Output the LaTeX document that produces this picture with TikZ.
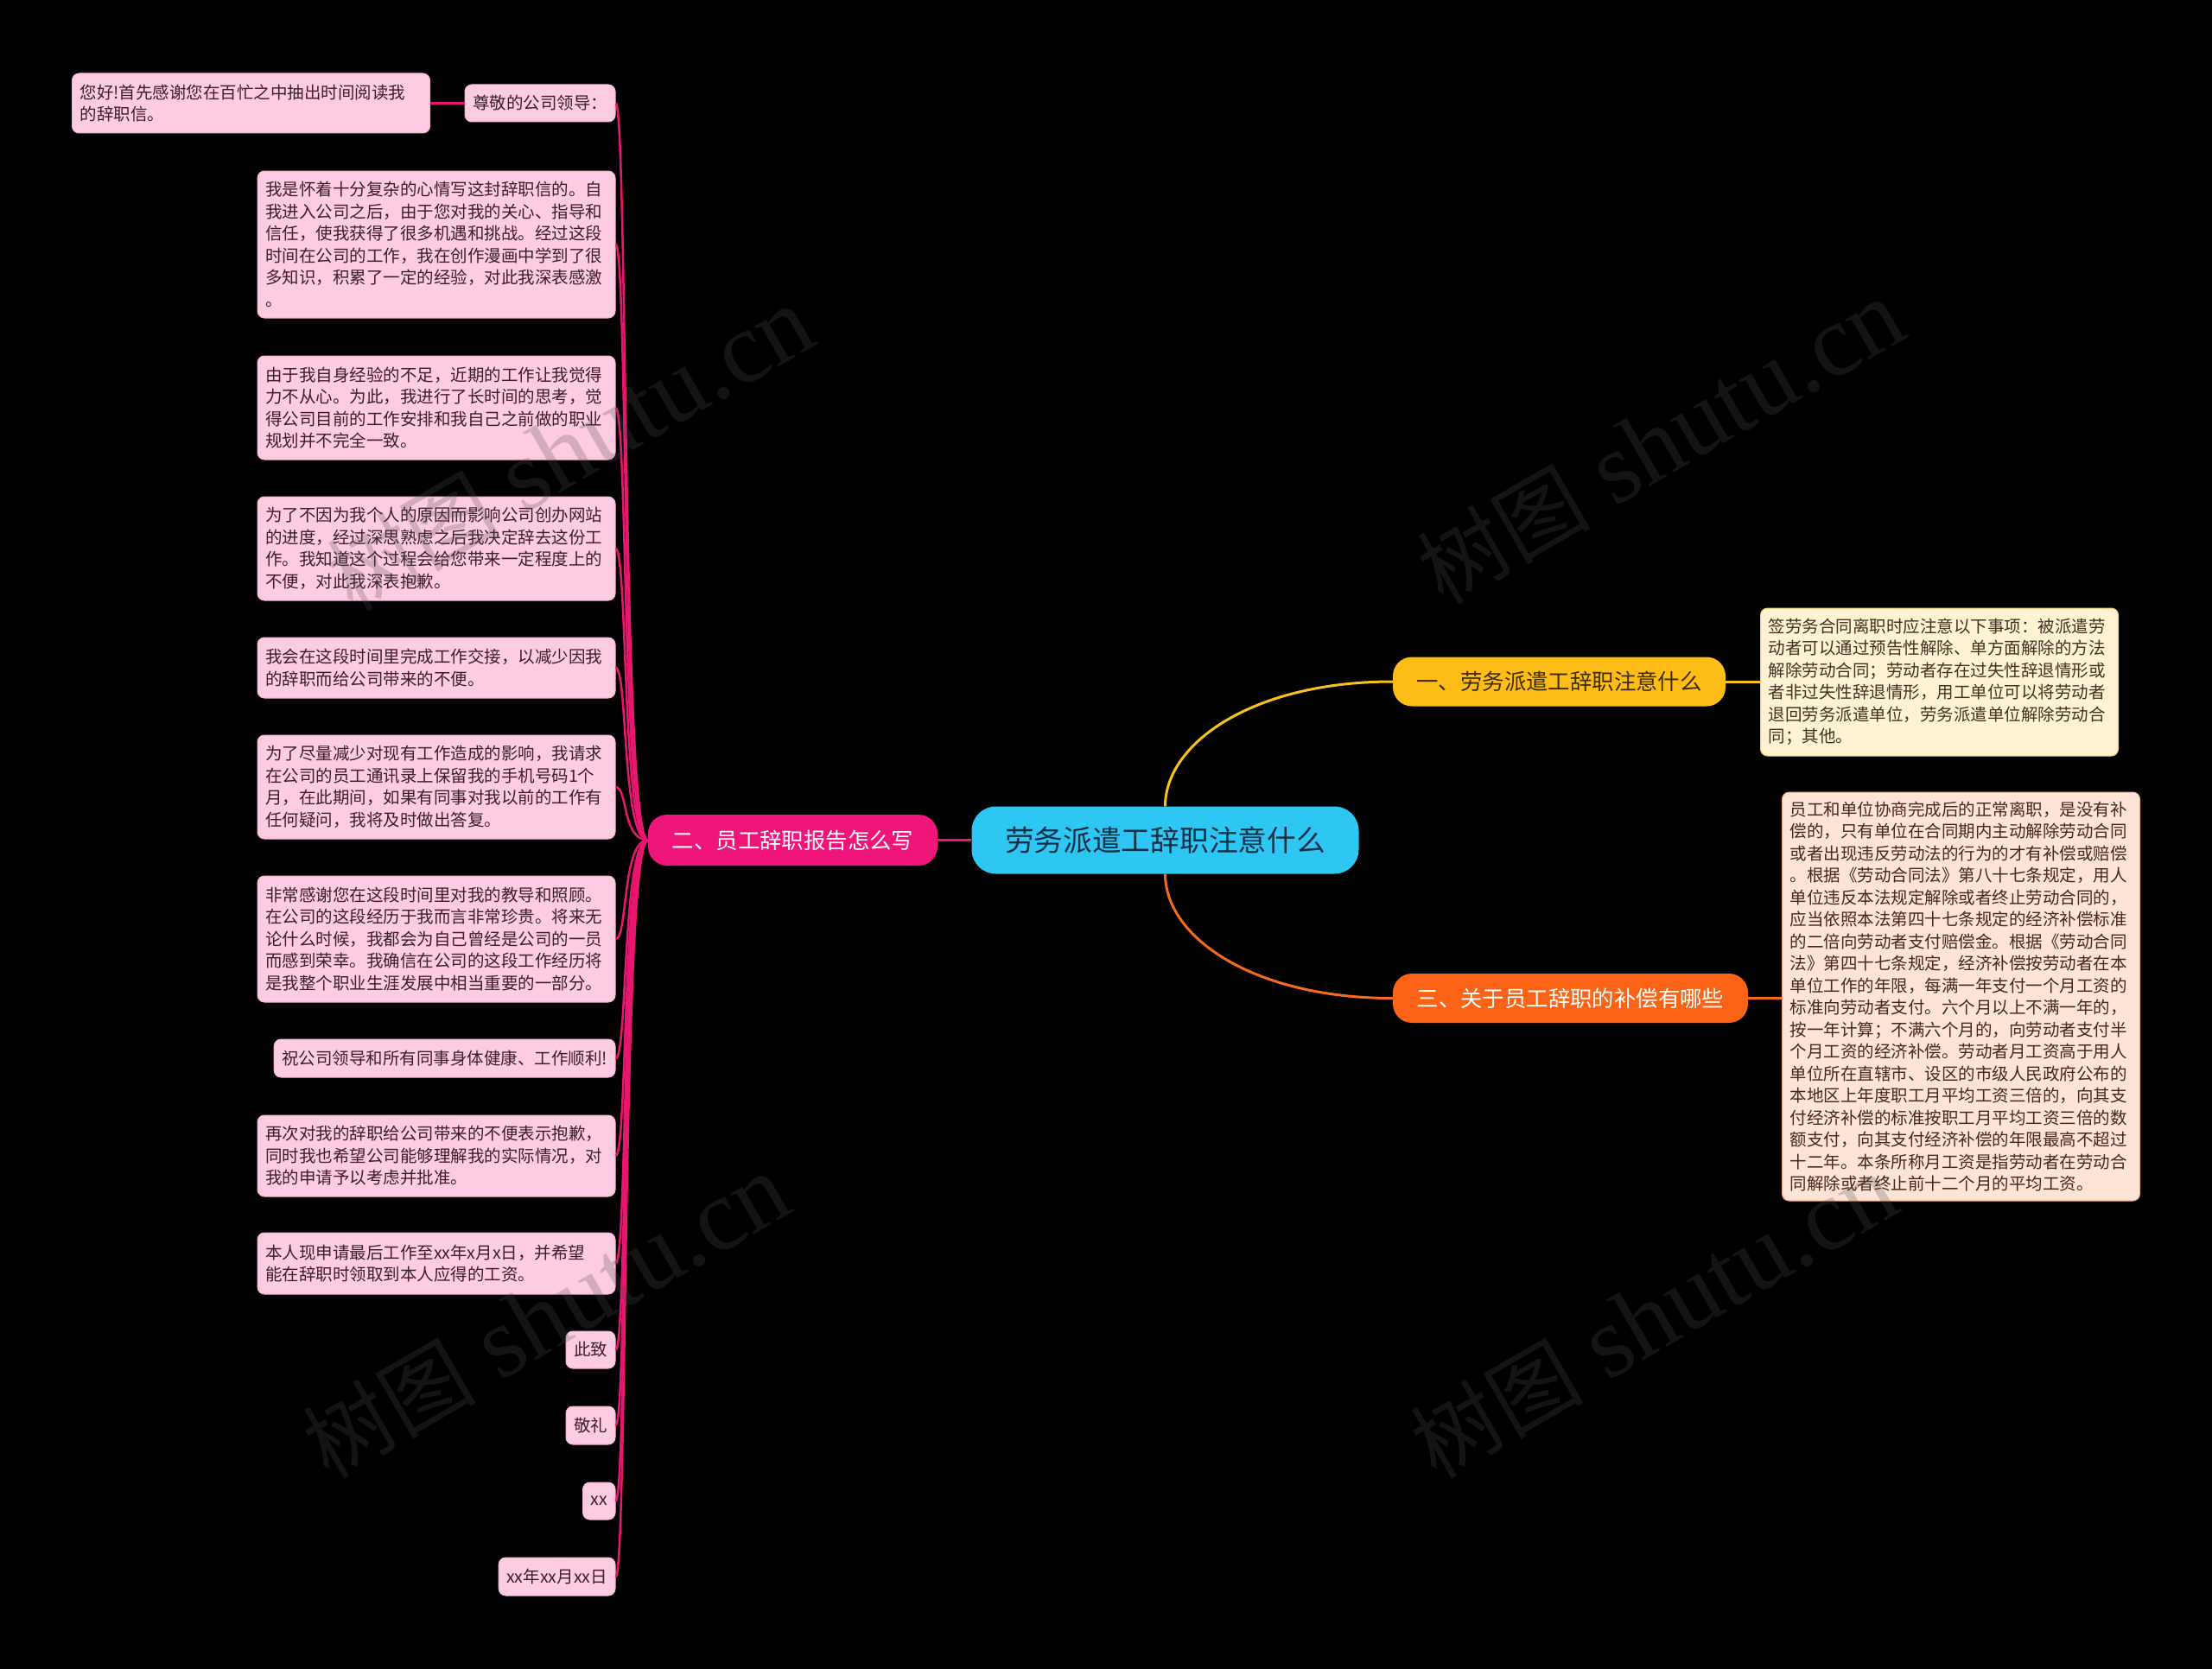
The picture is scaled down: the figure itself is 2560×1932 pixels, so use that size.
\documentclass[tikz,border=0pt]{standalone}
\usepackage{fontspec}
\setmainfont{Noto Sans CJK SC}
\newfontfamily\wmlatin{Liberation Serif}
\definecolor{bgc}{HTML}{000000}
\definecolor{cyanc}{HTML}{2EC6F2}
\definecolor{cyantext}{HTML}{123047}
\definecolor{goldc}{HTML}{FDBD16}
\definecolor{goldtext}{HTML}{3D2C05}
\definecolor{magc}{HTML}{F0157A}
\definecolor{orangec}{HTML}{FB6416}
\definecolor{pinkleaf}{HTML}{FECCE2}
\definecolor{pinkedge}{HTML}{F5B3D0}
\definecolor{pinktext}{HTML}{3A1E2C}
\definecolor{creamleaf}{HTML}{FFF3D4}
\definecolor{creamedge}{HTML}{F2CF6A}
\definecolor{creamtext}{HTML}{3D3320}
\definecolor{peachleaf}{HTML}{FDE4D6}
\definecolor{peachedge}{HTML}{F6A57A}
\definecolor{peachtext}{HTML}{45281A}
\definecolor{magline}{HTML}{E8166F}
\definecolor{goldline}{HTML}{F6C21C}
\definecolor{orangeline}{HTML}{F46A1E}
\definecolor{wmgray}{HTML}{505050}
\newcommand{\wmtext}{{\fontsize{100}{100}\selectfont 树图}\hspace{28pt}{\wmlatin\fontsize{118}{118}\selectfont shutu.cn}}
\tikzset{
  leafbox/.style={rectangle, rounded corners=8pt, line width=1pt, inner xsep=9pt, inner ysep=0pt,
    font=\fontsize{19.5}{25.5}\selectfont, align=left},
  pinkbox/.style={leafbox, fill=pinkleaf, draw=pinkedge, text=pinktext, anchor=east},
  para/.style={text width=396pt},
  creambox/.style={leafbox, para, fill=creamleaf, draw=creamedge, text=creamtext, anchor=west},
  peachbox/.style={leafbox, para, fill=peachleaf, draw=peachedge, text=peachtext, anchor=west},
  branchbox/.style={rectangle, rounded corners=22pt, inner sep=0pt, font=\fontsize{25.4}{28}\selectfont,
    minimum height=57pt},
  rootbox/.style={rectangle, rounded corners=28pt, inner sep=0pt, fill=cyanc, text=cyantext,
    font=\fontsize{33.7}{36}\selectfont, minimum width=448pt, minimum height=78pt},
  magconn/.style={draw=magline, line width=2.5pt},
  goldconn/.style={draw=goldline, line width=3pt},
  orangeconn/.style={draw=orangeline, line width=3pt},
  wmark/.style={rotate=30, text=wmgray, text opacity=0.25, inner sep=0pt}
}
\begin{document}
\begin{tikzpicture}[x=1pt,y=-1pt]
\useasboundingbox (0,0) rectangle (2560,1932);
\fill[bgc] (0,0) rectangle (2560,1932);

% root and branches
\node[rootbox] (c) at (1348.5,972.5) {劳务派遣工辞职注意什么};
\node[branchbox, fill=goldc, text=goldtext, minimum width=385pt] (b1) at (1804.5,789) {一、劳务派遣工辞职注意什么};
\node[branchbox, fill=magc, text=white, minimum width=335pt, minimum height=59pt] (b2) at (917.5,972.5) {二、员工辞职报告怎么写};
\node[branchbox, fill=orangec, text=white, minimum width=411pt] (b3) at (1817.5,1155.5) {三、关于员工辞职的补偿有哪些};

% right leaves
\node[creambox, minimum height=171pt] (r1) at (2037,789.5) {签劳务合同离职时应注意以下事项：被派遣劳\\动者可以通过预告性解除、单方面解除的方法\\解除劳动合同；劳动者存在过失性辞退情形或\\者非过失性辞退情形，用工单位可以将劳动者\\退回劳务派遣单位，劳务派遣单位解除劳动合\\同；其他。};
\node[peachbox, minimum height=473pt] (r3) at (2062,1153.5) {员工和单位协商完成后的正常离职，是没有补\\偿的，只有单位在合同期内主动解除劳动合同\\或者出现违反劳动法的行为的才有补偿或赔偿\\。根据《劳动合同法》第八十七条规定，用人\\单位违反本法规定解除或者终止劳动合同的，\\应当依照本法第四十七条规定的经济补偿标准\\的二倍向劳动者支付赔偿金。根据《劳动合同\\法》第四十七条规定，经济补偿按劳动者在本\\单位工作的年限，每满一年支付一个月工资的\\标准向劳动者支付。六个月以上不满一年的，\\按一年计算；不满六个月的，向劳动者支付半\\个月工资的经济补偿。劳动者月工资高于用人\\单位所在直辖市、设区的市级人民政府公布的\\本地区上年度职工月平均工资三倍的，向其支\\付经济补偿的标准按职工月平均工资三倍的数\\额支付，向其支付经济补偿的年限最高不超过\\十二年。本条所称月工资是指劳动者在劳动合\\同解除或者终止前十二个月的平均工资。};

% left leaves
\node[pinkbox, minimum height=43pt] (l0) at (712.5,119.5) {尊敬的公司领导：};
\node[pinkbox, para, minimum height=69pt] (l0a) at (498,119.5) {您好!首先感谢您在百忙之中抽出时间阅读我\\的辞职信。};
\node[pinkbox, para, minimum height=170pt] (l1) at (712.5,283) {我是怀着十分复杂的心情写这封辞职信的。自\\我进入公司之后，由于您对我的关心、指导和\\信任，使我获得了很多机遇和挑战。经过这段\\时间在公司的工作，我在创作漫画中学到了很\\多知识，积累了一定的经验，对此我深表感激\\。};
\node[pinkbox, para, minimum height=120pt] (l2) at (712.5,472) {由于我自身经验的不足，近期的工作让我觉得\\力不从心。为此，我进行了长时间的思考，觉\\得公司目前的工作安排和我自己之前做的职业\\规划并不完全一致。};
\node[pinkbox, para, minimum height=120pt] (l3) at (712.5,635) {为了不因为我个人的原因而影响公司创办网站\\的进度，经过深思熟虑之后我决定辞去这份工\\作。我知道这个过程会给您带来一定程度上的\\不便，对此我深表抱歉。};
\node[pinkbox, para, minimum height=70pt] (l4) at (712.5,773) {我会在这段时间里完成工作交接，以减少因我\\的辞职而给公司带来的不便。};
\node[pinkbox, para, minimum height=120pt] (l5) at (712.5,911) {为了尽量减少对现有工作造成的影响，我请求\\在公司的员工通讯录上保留我的手机号码1个\\月，在此期间，如果有同事对我以前的工作有\\任何疑问，我将及时做出答复。};
\node[pinkbox, para, minimum height=146pt] (l6) at (712.5,1087) {非常感谢您在这段时间里对我的教导和照顾。\\在公司的这段经历于我而言非常珍贵。将来无\\论什么时候，我都会为自己曾经是公司的一员\\而感到荣幸。我确信在公司的这段工作经历将\\是我整个职业生涯发展中相当重要的一部分。};
\node[pinkbox, minimum height=44pt] (l7) at (712.5,1225) {祝公司领导和所有同事身体健康、工作顺利!};
\node[pinkbox, para, minimum height=94pt] (l8) at (712.5,1338) {再次对我的辞职给公司带来的不便表示抱歉，\\同时我也希望公司能够理解我的实际情况，对\\我的申请予以考虑并批准。};
\node[pinkbox, para, minimum height=71pt] (l9) at (712.5,1462.5) {本人现申请最后工作至xx年x月x日，并希望\\能在辞职时领取到本人应得的工资。};
\node[pinkbox, minimum height=43pt] (l10) at (712.5,1562.5) {此致};
\node[pinkbox, minimum height=44pt] (l11) at (712.5,1650) {敬礼};
\node[pinkbox, minimum height=43pt] (l12) at (712.5,1737.5) {xx};
\node[pinkbox, minimum height=44pt] (l13) at (712.5,1825) {xx年xx月xx日};

% connectors
\draw[goldconn] (c.north) .. controls +(0,-73) and +(-162,0) .. (b1.west);
\draw[orangeconn] (c.south) .. controls +(0,73) and +(-162,0) .. (b3.west);
\draw[goldconn] (b1.east) -- (b1.east -| r1.west);
\draw[orangeconn] (b3.east) -- (b3.east -| r3.west);
\draw[magconn, line width=3.5pt] (b2.east) -- (c.west);
\draw[magconn] (l0.west) -- (l0a.east);
\foreach \n in {l0,l1,l2,l3,l4,l5,l6,l7,l8,l9,l10,l11,l12,l13}{
  \draw[magconn] (b2.west) .. controls +(-30,0) and +(14,0) .. (\n.east);
}

% watermarks
\node[wmark] (w1) at (660,520) {\wmtext};
\node[wmark] (w2) at (1922,512) {\wmtext};
\node[wmark] (w3) at (632,1524) {\wmtext};
\node[wmark] (w4) at (1914,1524) {\wmtext};
\end{tikzpicture}
\end{document}
